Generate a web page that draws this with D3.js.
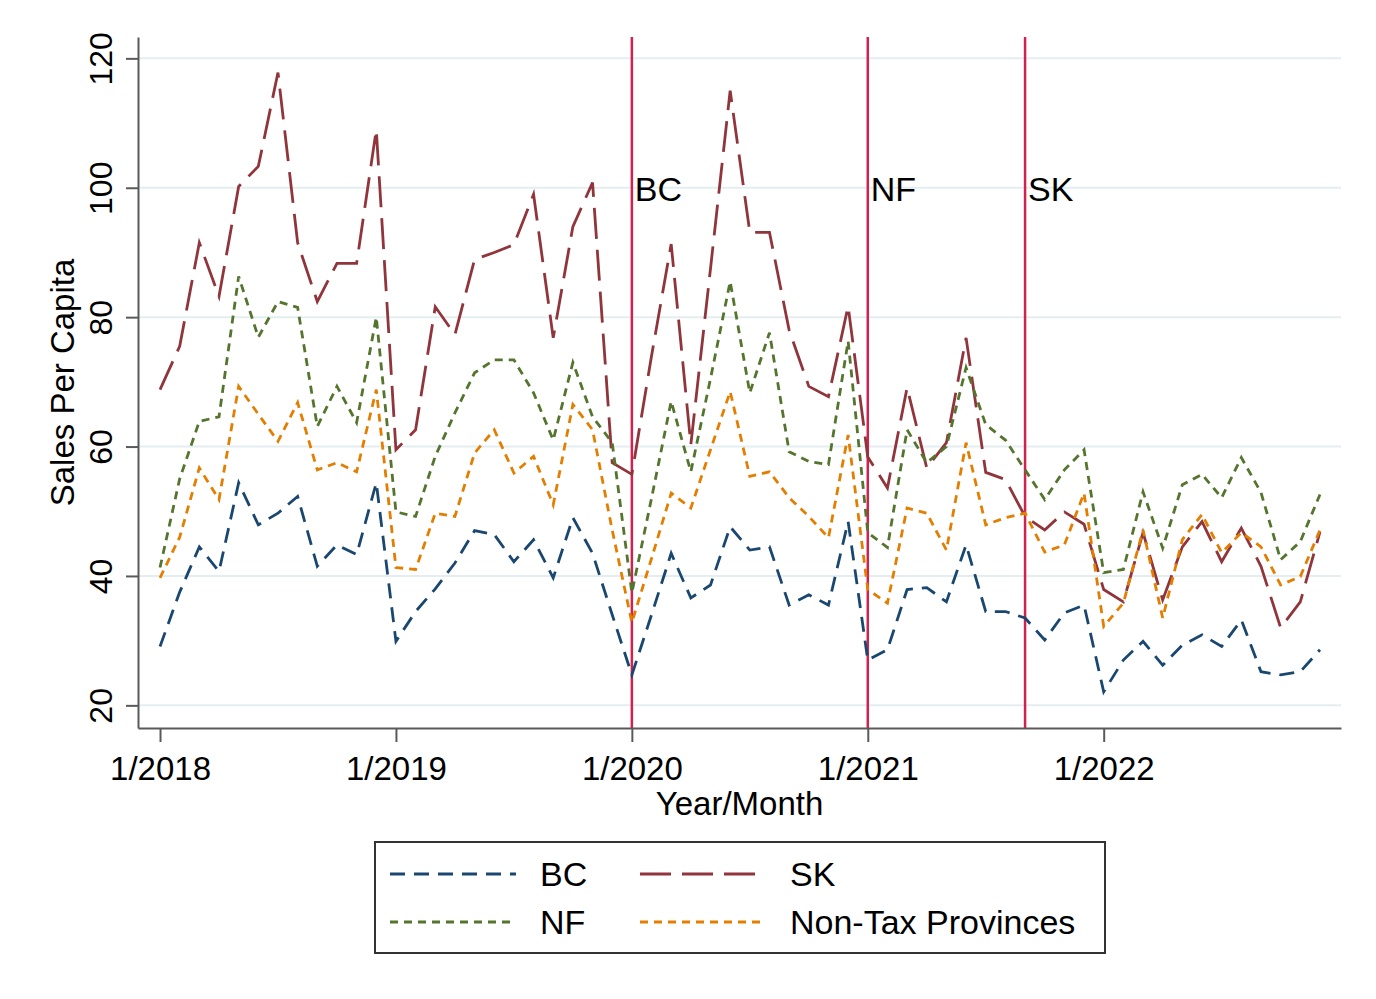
<!DOCTYPE html>
<html>
<head>
<meta charset="utf-8">
<script src="https://cdn.jsdelivr.net/npm/d3@7"></script>
<style>
  body { margin: 0; background: #fff; }
  text { font-family: "Liberation Sans", Arial, sans-serif; fill: #000; }
</style>
</head>
<body>
<div id="chart"></div>
<script>
const years = [2018, 2019, 2020, 2021, 2022];
const months = years.flatMap(y => d3.range(1, 13).map(m => `${m}/${y}`));
const tickLabels = ["1/2018", "1/2019", "1/2020", "1/2021", "1/2022"];
const yTicks = [20, 40, 60, 80, 100, 120];
const eventMonths = ["1/2020", "1/2021", "9/2021"];
const eventLabels = ["BC", "NF", "SK"];

const bc = [29.1, 37.5, 44.5, 40.7, 54.4, 47.9, 49.7, 52.3, 41.5, 44.8, 43.3, 54.4,
  29.9, 34.5, 38, 42, 47, 46.4, 42.2, 45.6, 39.7, 49, 43.5, 34,
  24.7, 34, 43.5, 36.6, 38.6, 47.6, 44, 44.5, 35.5, 37.1, 35.5, 48.4,
  27, 28.6, 37.9, 38.2, 36, 44.8, 34.5, 34.5, 33.5, 30.1, 34.3, 35.5,
  22.1, 27, 29.9, 26.2, 29.3, 30.9, 29.1, 33.2, 25.2, 24.7, 25.2, 28.6];
const sk = [68.8, 75.5, 91.5, 83.2, 100.2, 103.3, 117.8, 91.5, 82.4, 88.3, 88.3, 109,
  59.5, 62.6, 81.6, 77.3, 88.9, 90, 91.2, 99, 76.8, 94, 100.8, 57.5,
  55.7, 74, 91.3, 60.3, 87.5, 115, 93.1, 93.1, 78, 69.3, 67.7, 81.7,
  58.4, 53.6, 69.1, 56.7, 60.6, 76.8, 56, 54.9, 49.2, 47.1, 49.9, 48,
  37.9, 36, 46.7, 36.3, 44.5, 48.4, 42.2, 47.4, 41.5, 32, 36, 46.8];
const nf = [41.3, 55, 63.9, 64.6, 86.3, 76.9, 82.4, 81.5, 63.1, 69.3, 63.7, 80,
  49.9, 49.2, 58.5, 65.2, 71.4, 73.4, 73.4, 68.3, 61, 73, 64.6, 60.6,
  37.4, 52, 67, 56.1, 70.5, 85.5, 68.3, 77.6, 59.2, 57.7, 57.2, 76.3,
  46.7, 44.4, 62.6, 57.5, 60, 72.2, 63.4, 61, 56.4, 51.8, 56.4, 59.5,
  40.5, 41, 53, 44.3, 54.1, 55.7, 52.1, 58.3, 52.9, 42.5, 45.3, 52.6];
const nonTax = [39.7, 46, 56.7, 51.8, 69.3, 65, 60.8, 66.8, 56.4, 57.5, 56.1, 68.8,
  41.3, 41, 49.7, 49.2, 59, 62.6, 55.9, 58.5, 51, 66.5, 62.6, 47.1,
  32.8, 42.7, 52.8, 50.5, 59.5, 68.5, 55.4, 56.1, 52.1, 49.2, 45.9, 61.8,
  37.9, 35.8, 50.5, 49.7, 44, 60.6, 47.9, 49, 49.7, 43.7, 44.8, 52.8,
  32.2, 35.8, 47.1, 33.5, 45.6, 49.5, 43.6, 46.7, 44.5, 38.6, 39.9, 47.1];

const series = [
  { name: "BC", values: bc, color: "#1a476f", dash: "15,9" },
  { name: "SK", values: sk, color: "#90353b", dash: "31,11" },
  { name: "NF", values: nf, color: "#55752f", dash: "8,6" },
  { name: "Non-Tax Provinces", values: nonTax, color: "#e37e00", dash: "8,6" }
];

const width = 1376, height = 999;
const plot = { left: 138, right: 1341, top: 37, bottom: 728 };

const svg = d3.select("#chart").append("svg")
  .attr("width", width)
  .attr("height", height);

svg.append("rect").attr("width", width).attr("height", height).attr("fill", "#fff");

const x = d3.scaleLinear().domain([-1.12, 60.07]).range([plot.left, plot.right]);
const y = d3.scaleLinear().domain([16.5, 123.3]).range([plot.bottom, plot.top]);

// grid
svg.append("g")
  .selectAll("line")
  .data(yTicks)
  .join("line")
  .attr("x1", plot.left).attr("x2", plot.right)
  .attr("y1", d => y(d)).attr("y2", d => y(d))
  .attr("stroke", "#e4eef1")
  .attr("stroke-width", 2);

// event lines
const ev = svg.append("g");
eventMonths.forEach((m, i) => {
  const xi = x(months.indexOf(m));
  ev.append("line")
    .attr("x1", xi).attr("x2", xi)
    .attr("y1", plot.top).attr("y2", plot.bottom)
    .attr("stroke", "#d0214f")
    .attr("stroke-width", 2.5);
  ev.append("text")
    .attr("x", xi + 3)
    .attr("y", y(98))
    .style("font-size", "34px")
    .text(eventLabels[i]);
});

// lines
const line = d3.line()
  .x((d, i) => x(i))
  .y(d => y(d));

svg.append("g")
  .selectAll("path")
  .data(series)
  .join("path")
  .attr("d", d => line(d.values))
  .attr("fill", "none")
  .attr("stroke", d => d.color)
  .attr("stroke-width", 2.8)
  .attr("stroke-dasharray", d => d.dash);

// axes
const xAxis = svg.append("g")
  .attr("transform", `translate(0,${plot.bottom})`)
  .call(d3.axisBottom(x)
    .tickValues(tickLabels.map(t => months.indexOf(t)))
    .tickFormat(i => months[i])
    .tickSize(14)
    .tickSizeOuter(0));
xAxis.selectAll("text")
  .attr("y", 52)
  .attr("dy", 0)
  .style("font-size", "33px")
  .style("font-family", "'Liberation Sans', Arial, sans-serif")
  .attr("fill", "#000");

const yAxis = svg.append("g")
  .attr("transform", `translate(${plot.left},0)`)
  .call(d3.axisLeft(y)
    .tickValues(yTicks)
    .tickSize(12)
    .tickSizeOuter(0));
yAxis.selectAll("text")
  .attr("x", 0).attr("y", 0).attr("dy", 0)
  .attr("text-anchor", "middle")
  .attr("transform", "translate(-26,0) rotate(-90)")
  .style("font-size", "32px")
  .style("font-family", "'Liberation Sans', Arial, sans-serif")
  .attr("fill", "#000");

svg.selectAll(".domain, .tick line")
  .attr("stroke", "#5a5a5a")
  .attr("stroke-width", 2);

// axis titles
svg.append("text")
  .attr("x", (plot.left + plot.right) / 2)
  .attr("y", 815)
  .attr("text-anchor", "middle")
  .style("font-size", "33px")
  .text("Year/Month");

svg.append("text")
  .attr("transform", `translate(74,${(plot.top + plot.bottom) / 2}) rotate(-90)`)
  .attr("text-anchor", "middle")
  .style("font-size", "33px")
  .text("Sales Per Capita");

// legend
const legend = svg.append("g").attr("transform", "translate(375,842)");
legend.append("rect")
  .attr("width", 730).attr("height", 111)
  .attr("fill", "#fff")
  .attr("stroke", "#333")
  .attr("stroke-width", 2);

const cols = [15, 265];
const rows = [32, 80];
series.forEach((s, i) => {
  const cx = cols[i % 2], cy = rows[Math.floor(i / 2)];
  legend.append("line")
    .attr("x1", cx).attr("x2", cx + 126)
    .attr("y1", cy).attr("y2", cy)
    .attr("stroke", s.color)
    .attr("stroke-width", 2.8)
    .attr("stroke-dasharray", s.dash);
  legend.append("text")
    .attr("x", cx + 150)
    .attr("y", cy + 12)
    .style("font-size", "34px")
    .text(s.name);
});
</script>
</body>
</html>
